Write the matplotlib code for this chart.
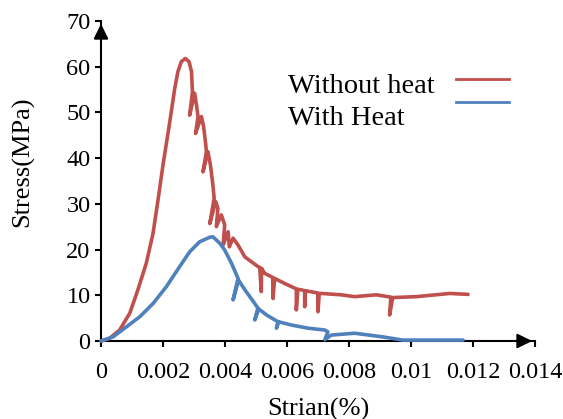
import matplotlib
matplotlib.use("Agg")
import matplotlib.pyplot as plt

plt.rcParams['font.family'] = ['Liberation Serif', 'DejaVu Serif']

# strain (%) / stress (MPa)
red_strain = [0.0, 0.00028, 0.00060, 0.00093, 0.00119, 0.00146, 0.00168, 0.00184, 0.00200,
              0.00222, 0.00238, 0.00248, 0.00259, 0.00272, 0.00284, 0.00292, 0.00295, 0.00286,
              0.00302, 0.00308, 0.00313, 0.00305, 0.00324, 0.00331, 0.00338, 0.00340, 0.00329,
              0.00345, 0.00353, 0.00361, 0.00365, 0.00351, 0.00370, 0.00377, 0.00372, 0.00388,
              0.00399, 0.00394, 0.00410, 0.00414, 0.00426, 0.00442, 0.00464, 0.00506, 0.00512,
              0.00517, 0.00518, 0.00528, 0.00554, 0.00555, 0.00560, 0.00592, 0.00630, 0.00630,
              0.00635, 0.00646, 0.00657, 0.00657, 0.00660, 0.00699, 0.00700, 0.00704, 0.00711,
              0.00775, 0.00818, 0.00888, 0.00935, 0.00931, 0.00941, 0.01017, 0.01125, 0.01184]
red_stress = [0.0, 0.6, 2.4, 6.1, 11.2, 17.0, 23.6, 30.9, 38.5,
              48.0, 55.3, 58.9, 61.1, 61.8, 61.1, 58.9, 54.5, 49.4,
              54.2, 51.6, 49.1, 45.4, 49.1, 46.9, 42.9, 41.4, 37.0,
              41.4, 38.5, 34.1, 31.2, 25.7, 30.5, 29.0, 25.0, 27.6,
              25.4, 21.0, 23.9, 20.6, 22.5, 21.0, 18.4, 16.3, 16.1,
              10.8, 15.9, 14.8, 13.9, 9.3, 13.7, 12.6, 11.4, 6.8,
              11.3, 11.2, 11.0, 7.5, 11.0, 10.5, 6.4, 10.4, 10.4,
              10.1, 9.7, 10.1, 9.6, 5.7, 9.5, 9.7, 10.4, 10.2]

blue_strain = [0.0, 0.00039, 0.00082, 0.00125, 0.00168, 0.00211, 0.00254, 0.00286, 0.00318,
               0.00351, 0.00361, 0.00383, 0.00399, 0.00421, 0.00442, 0.00426, 0.00444, 0.00464,
               0.00496, 0.00506, 0.00496, 0.00509, 0.00534, 0.00571, 0.00566, 0.00573, 0.00614,
               0.00668, 0.00722, 0.00732, 0.00722, 0.00743, 0.00818, 0.00909, 0.00973, 0.01017,
               0.01168]
blue_stress = [0.0, 0.9, 3.1, 5.3, 8.2, 11.9, 16.3, 19.5, 21.7,
               22.7, 22.8, 21.4, 19.9, 17.0, 13.7, 9.0, 13.3, 11.2,
               8.2, 7.2, 4.6, 7.0, 5.7, 4.2, 2.8, 4.2, 3.5,
               2.8, 2.4, 2.0, 0.3, 1.3, 1.7, 0.9, 0.2, 0.2,
               0.2]

x_ticks = [0, 0.002, 0.004, 0.006, 0.008, 0.010, 0.012, 0.014]
x_labels = ['0', '0.002', '0.004', '0.006', '0.008', '0.01', '0.012', '0.014']
y_ticks = [0, 10, 20, 30, 40, 50, 60, 70]

red = '#C0504D'
blue = '#4F81BD'

fig = plt.figure(figsize=(5.63, 4.19), dpi=100)
ax = fig.add_axes([101 / 563, 78 / 419, 434 / 563, 320 / 419])

ax.plot(red_strain, red_stress, color=red, lw=2.6, solid_joinstyle='round',
        solid_capstyle='round', clip_on=False, zorder=3)
ax.plot(blue_strain, blue_stress, color=blue, lw=2.6, solid_joinstyle='round',
        solid_capstyle='round', clip_on=False, zorder=4)

ax.set_xlim(0, 0.014)
ax.set_ylim(0, 70)
ax.set_xticks(x_ticks)
ax.set_xticklabels(x_labels)
ax.set_yticks(y_ticks)

for s in ['top', 'right']:
    ax.spines[s].set_visible(False)
for s in ['left', 'bottom']:
    ax.spines[s].set_linewidth(1.5)
ax.tick_params(direction='out', length=4.5, width=1.5, labelsize=17.5, colors='black')
ax.tick_params(axis='x', pad=10.5)
ax.tick_params(axis='y', pad=3)

# arrow heads on the axes
arrow = dict(arrowstyle='-|>,head_length=0.45,head_width=0.22',
             color='black', lw=1.5, mutation_scale=20)
ax.annotate('', xy=(1.0, 0), xytext=(0.95, 0), xycoords='axes fraction', arrowprops=arrow)
ax.annotate('', xy=(0, 1.0), xytext=(0, 0.93), xycoords='axes fraction', arrowprops=arrow)

ax.set_xlabel('Strian(%)', fontsize=19)
ax.set_ylabel('Stress(MPa)', fontsize=19)
ax.xaxis.set_label_coords(0.5, -0.2125)
ax.yaxis.set_label_coords(-0.18, 0.56)
ax.xaxis.label.set_va('center')
ax.yaxis.label.set_va('center')

# legend drawn the way the original has it: text left, line to the right
ax.text(0.4316, 0.775, 'Without heat', transform=ax.transAxes, fontsize=20.5, va='baseline')
ax.text(0.4316, 0.675, 'With Heat', transform=ax.transAxes, fontsize=20.5, va='baseline')
ax.plot([0.818, 0.940], [0.818, 0.818], color=red, lw=2, transform=ax.transAxes)
ax.plot([0.818, 0.940], [0.748, 0.748], color=blue, lw=2, transform=ax.transAxes)

fig.savefig('out.png', dpi=100)
